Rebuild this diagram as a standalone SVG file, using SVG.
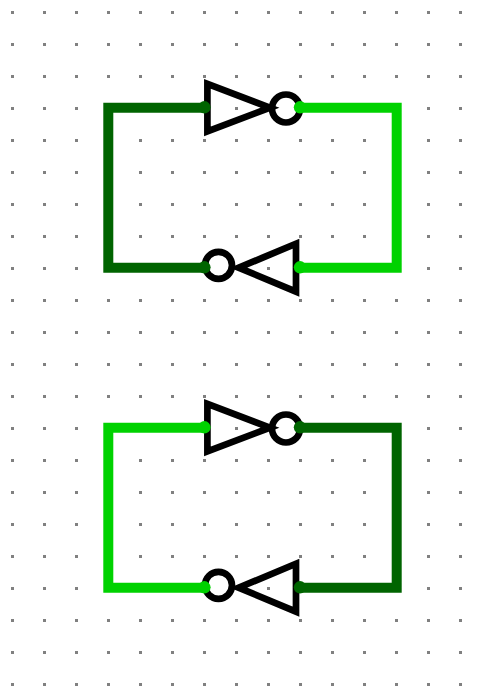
<svg xmlns="http://www.w3.org/2000/svg" width="483" height="696" viewBox="0 0 483 696">
<style>
.wire{fill:none;stroke-width:10;stroke-linecap:butt;stroke-linejoin:miter}
.dark{stroke:#006400}.light{stroke:#00d200}
.dd{fill:#006400}.ld{fill:#00d200}
.gate{fill:none;stroke:#000;stroke-width:6.700;stroke-linejoin:miter;stroke-miterlimit:10}
</style>
<defs>
<pattern id="g" x="11" y="11" width="32" height="32" patternUnits="userSpaceOnUse"><rect width="3" height="3" fill="#808080"/></pattern>
<g id="invR"><path class="gate" d="M207.400 -24.100V23.500L270 -0.300Z"/><circle class="gate" cx="286" cy="0.500" r="14"/></g>
<g id="invL"><path class="gate" d="M296 -24.300V23.700L238.600 -0.300Z"/><circle class="gate" cx="218.500" cy="-2.700" r="13.500"/></g>
</defs>
<rect id="grid" x="0" y="0" width="483" height="696" fill="url(#g)"/>
<g id="inv1"><use href="#invR" y="108"/></g>
<g id="inv2"><use href="#invL" y="268"/></g>
<g id="inv3"><use href="#invR" y="428"/></g>
<g id="inv4"><use href="#invL" y="588"/></g>
<g id="connectors">
<path class="wire dark" d="M204 107.800H108.300V267.800H204"/>
<path class="wire light" d="M300 107.800H396.700V267.800H300"/>
<path class="wire light" d="M204 427.800H108.300V587.800H204"/>
<path class="wire dark" d="M300 427.800H396.700V587.800H300"/>
<circle class="dd" cx="204.400" cy="107.300" r="6.200"/><circle class="dd" cx="204.400" cy="267.300" r="6.200"/>
<circle class="ld" cx="300" cy="107.300" r="6.200"/><circle class="ld" cx="300" cy="267.300" r="6.200"/>
<circle class="ld" cx="204.400" cy="427.300" r="6.200"/><circle class="ld" cx="204.400" cy="587.300" r="6.200"/>
<circle class="dd" cx="300" cy="427.300" r="6.200"/><circle class="dd" cx="300" cy="587.300" r="6.200"/>
</g>
</svg>
